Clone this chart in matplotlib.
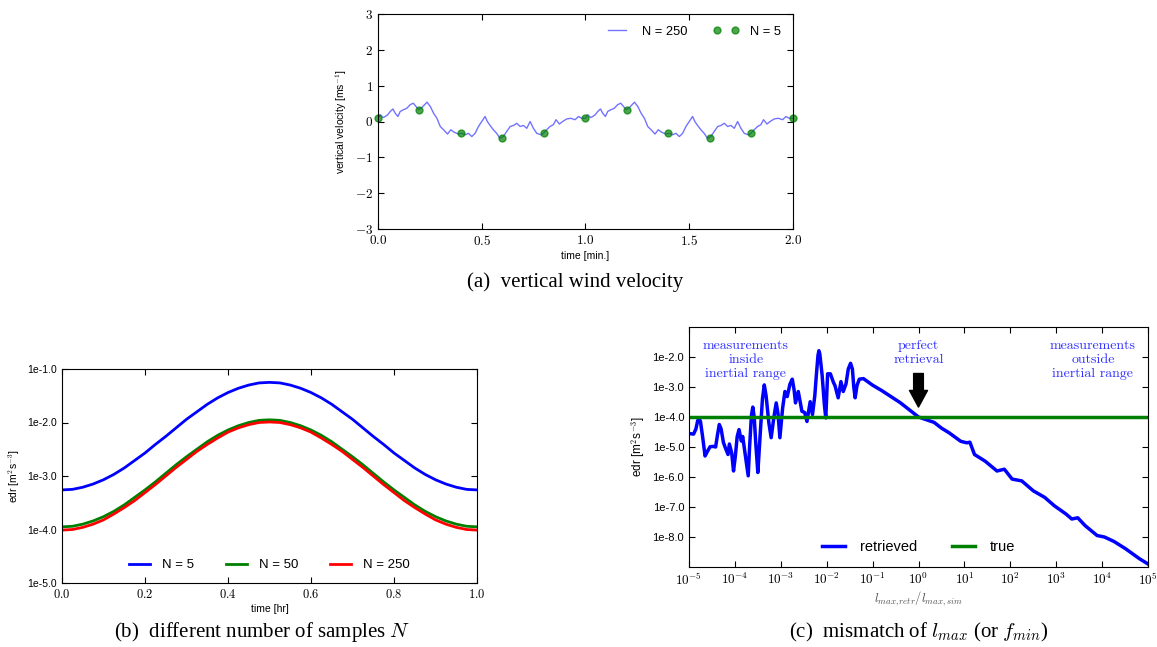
import matplotlib
matplotlib.use('Agg')
import matplotlib.pyplot as plt
import numpy as np

plt.rcParams['font.family'] = ['Liberation Sans', 'DejaVu Sans']
plt.rcParams['mathtext.fontset'] = 'cm'
plt.rcParams['xtick.direction'] = 'in'
plt.rcParams['ytick.direction'] = 'in'
plt.rcParams['xtick.top'] = True
plt.rcParams['ytick.right'] = True
plt.rcParams['xtick.major.size'] = 4
plt.rcParams['ytick.major.size'] = 4
plt.rcParams['xtick.minor.size'] = 2
plt.rcParams['ytick.minor.size'] = 2

# (a) vertical wind velocity, N = 250 line
t_line = [0.000, 0.011, 0.024, 0.035, 0.047, 0.059, 0.072, 0.083, 0.096, 0.107,
          0.123, 0.139, 0.155, 0.170, 0.183, 0.196, 0.212, 0.225, 0.236, 0.252,
          0.268, 0.284, 0.300, 0.316, 0.335, 0.351, 0.367, 0.388, 0.404, 0.420,
          0.436, 0.452, 0.468, 0.484, 0.500, 0.516, 0.527, 0.540, 0.556, 0.572,
          0.588, 0.604, 0.620, 0.637, 0.653, 0.669, 0.685, 0.701, 0.717, 0.733,
          0.749, 0.765, 0.785, 0.797, 0.813, 0.829, 0.845, 0.858, 0.874, 0.890,
          0.909, 0.929, 0.950, 0.966, 0.982, 1.000,
          1.011, 1.024, 1.035, 1.047, 1.059, 1.072, 1.083, 1.096, 1.107,
          1.123, 1.139, 1.155, 1.170, 1.183, 1.196, 1.212, 1.225, 1.236, 1.252,
          1.268, 1.284, 1.300, 1.316, 1.335, 1.351, 1.367, 1.388, 1.404, 1.420,
          1.436, 1.452, 1.468, 1.484, 1.500, 1.516, 1.527, 1.540, 1.556, 1.572,
          1.588, 1.604, 1.620, 1.637, 1.653, 1.669, 1.685, 1.701, 1.717, 1.733,
          1.749, 1.765, 1.785, 1.797, 1.813, 1.829, 1.845, 1.858, 1.874, 1.890,
          1.909, 1.929, 1.950, 1.966, 1.982, 2.000]
w_line = [0.09, 0.19, 0.11, 0.14, 0.19, 0.28, 0.35, 0.23, 0.14, 0.28,
          0.33, 0.37, 0.47, 0.51, 0.42, 0.33, 0.39, 0.47, 0.54, 0.42,
          0.23, 0.09, -0.14, -0.23, -0.35, -0.23, -0.30, -0.35, -0.33, -0.37,
          -0.33, -0.42, -0.33, -0.14, 0.00, 0.14, 0.00, -0.11, -0.23, -0.33,
          -0.47, -0.42, -0.28, -0.14, -0.11, -0.05, -0.14, -0.11, -0.19, 0.00,
          -0.19, -0.33, -0.37, -0.33, -0.23, -0.14, -0.09, 0.05, -0.07, 0.00,
          0.07, 0.09, 0.05, 0.14, 0.09, 0.09,
          0.19, 0.11, 0.14, 0.19, 0.28, 0.35, 0.23, 0.14, 0.28,
          0.33, 0.37, 0.47, 0.51, 0.42, 0.33, 0.39, 0.47, 0.54, 0.42,
          0.23, 0.09, -0.14, -0.23, -0.35, -0.23, -0.30, -0.35, -0.33, -0.37,
          -0.33, -0.42, -0.33, -0.14, 0.00, 0.14, 0.00, -0.11, -0.23, -0.33,
          -0.47, -0.42, -0.28, -0.14, -0.11, -0.05, -0.14, -0.11, -0.19, 0.00,
          -0.19, -0.33, -0.37, -0.33, -0.23, -0.14, -0.09, 0.05, -0.07, 0.00,
          0.07, 0.09, 0.05, 0.14, 0.09, 0.09]
# N = 5 samples
t_dots = [0.0, 0.2, 0.4, 0.6, 0.8, 1.0, 1.2, 1.4, 1.6, 1.8, 2.0]
w_dots = [0.11, 0.33, -0.33, -0.46, -0.33, 0.11, 0.33, -0.33, -0.46, -0.33, 0.11]

# (b) log10 edr over one hour for different N
t_hr = [0.000, 0.025, 0.050, 0.075, 0.100, 0.125, 0.150, 0.175, 0.200, 0.225,
        0.250, 0.275, 0.300, 0.325, 0.350, 0.375, 0.400, 0.425, 0.450, 0.475,
        0.500, 0.525, 0.550, 0.575, 0.600, 0.625, 0.650, 0.675, 0.700, 0.725,
        0.750, 0.775, 0.800, 0.825, 0.850, 0.875, 0.900, 0.925, 0.950, 0.975, 1.000]
edr_n5 = [-3.26, -3.25, -3.21, -3.15, -3.07, -2.97, -2.85, -2.71, -2.57, -2.41,
          -2.26, -2.10, -1.94, -1.80, -1.66, -1.54, -1.44, -1.36, -1.30, -1.26,
          -1.25, -1.26, -1.30, -1.36, -1.44, -1.54, -1.66, -1.80, -1.94, -2.10,
          -2.26, -2.41, -2.57, -2.71, -2.85, -2.97, -3.07, -3.15, -3.21, -3.25, -3.26]
edr_n50 = [-3.95, -3.94, -3.90, -3.84, -3.76, -3.66, -3.54, -3.40, -3.26, -3.11,
           -2.95, -2.79, -2.64, -2.50, -2.36, -2.24, -2.14, -2.06, -2.00, -1.96,
           -1.95, -1.96, -2.00, -2.06, -2.14, -2.24, -2.36, -2.50, -2.64, -2.79,
           -2.95, -3.11, -3.26, -3.40, -3.54, -3.66, -3.76, -3.84, -3.90, -3.94, -3.95]
edr_n250 = [-4.01, -4.00, -3.96, -3.90, -3.82, -3.71, -3.59, -3.46, -3.31, -3.16,
            -3.00, -2.84, -2.69, -2.54, -2.41, -2.29, -2.18, -2.10, -2.04, -2.00,
            -1.99, -2.00, -2.04, -2.10, -2.18, -2.29, -2.41, -2.54, -2.69, -2.84,
            -3.00, -3.16, -3.31, -3.46, -3.59, -3.71, -3.82, -3.90, -3.96, -4.00, -4.01]

# (c) retrieved log10 edr vs log10(l_max,retr / l_max,sim)
ratio_exp = [-5.00, -4.90, -4.85, -4.81, -4.78, -4.75, -4.70, -4.65, -4.60, -4.54,
             -4.47, -4.42, -4.38, -4.34, -4.30, -4.25, -4.21, -4.15, -4.12, -4.07,
             -4.03, -3.99, -3.95, -3.91, -3.86, -3.83, -3.78, -3.71, -3.68, -3.64,
             -3.61, -3.58, -3.54, -3.50, -3.45, -3.40, -3.36, -3.32, -3.26, -3.21,
             -3.15, -3.10, -3.06, -3.02, -2.96, -2.91, -2.86, -2.80, -2.75, -2.71,
             -2.68, -2.62, -2.54, -2.48, -2.43, -2.36, -2.31, -2.26, -2.22, -2.19,
             -2.17, -2.15, -2.10, -2.05, -2.02, -2.00, -1.98, -1.92, -1.85, -1.82,
             -1.75, -1.69, -1.64, -1.58, -1.53, -1.48, -1.44, -1.41, -1.38, -1.34,
             -1.29, -1.20, -1.00, -0.80, -0.60, -0.40, -0.20, 0.00, 0.34, 0.50,
             0.67, 0.92, 1.05, 1.12, 1.22, 1.45, 1.71, 1.87, 2.04, 2.25,
             2.50, 2.75, 2.96, 3.21, 3.34, 3.47, 3.63, 3.89, 4.05, 4.26,
             4.51, 4.81, 5.00]
edr_retr = [-4.55, -4.57, -4.40, -4.12, -4.05, -4.15, -4.70, -5.30, -5.15, -4.99,
            -4.98, -5.00, -4.60, -4.25, -4.40, -4.85, -5.02, -5.25, -4.90, -5.20,
            -5.80, -5.30, -4.65, -4.42, -4.80, -4.65, -5.20, -5.96, -5.00, -3.95,
            -3.67, -4.00, -5.00, -5.85, -4.60, -3.40, -2.93, -3.30, -4.20, -4.69,
            -4.00, -3.53, -3.90, -4.69, -3.70, -3.15, -3.32, -2.90, -2.74, -3.10,
            -3.53, -3.15, -3.81, -3.85, -4.15, -3.49, -3.92, -3.30, -2.50, -1.95,
            -1.79, -1.90, -2.60, -3.60, -4.03, -3.30, -2.56, -2.56, -2.86, -2.95,
            -3.36, -2.82, -3.15, -2.90, -2.40, -2.21, -2.40, -3.00, -3.36, -2.95,
            -2.74, -2.72, -2.94, -3.12, -3.32, -3.52, -3.76, -4.00, -4.18, -4.37,
            -4.53, -4.81, -4.86, -4.84, -5.25, -5.47, -5.80, -5.74, -6.07, -6.13,
            -6.46, -6.68, -6.96, -7.23, -7.40, -7.36, -7.62, -7.95, -8.00, -8.15,
            -8.39, -8.72, -8.90]
edr_true = -4.0

W, H = 1157, 647
fig = plt.figure(figsize=(W / 100, H / 100), dpi=100)

def px_axes(left, top, right, bottom):
    return fig.add_axes([left / W, 1 - bottom / H, (right - left) / W, (bottom - top) / H])

# ---- (a)
ax1 = px_axes(378, 14, 793, 229)
ax1.plot(t_line, w_line, color='b', alpha=0.55, lw=1, label='N = 250')
ax1.plot(t_dots, w_dots, 'o', color='g', alpha=0.7, ms=5, mec='g', label='N = 5', clip_on=False)
ax1.set_xlim(0, 2)
ax1.set_ylim(-3, 3)
ax1.set_xticks([0.0, 0.5, 1.0, 1.5, 2.0])
ax1.set_xticklabels(['$0.0$', '$0.5$', '$1.0$', '$1.5$', '$2.0$'], fontsize=9.5)
ax1.set_yticks([-3, -2, -1, 0, 1, 2, 3])
ax1.set_yticklabels(['$-3$', '$-2$', '$-1$', '$0$', '$1$', '$2$', '$3$'], fontsize=9.5)
ax1.set_xlabel('time [min.]', fontsize=7.5, labelpad=2)
ax1.set_ylabel('vertical velocity [ms$^{-1}$]', fontsize=7.5, labelpad=4)
ax1.legend(loc='upper right', ncol=2, frameon=False, fontsize=9.3, numpoints=2,
           handlelength=2.0, handletextpad=0.9, columnspacing=2.0)

# ---- (b)
ax2 = px_axes(62, 369, 477, 583)
ax2.plot(t_hr, edr_n5, color='b', lw=2, label='N = 5')
ax2.plot(t_hr, edr_n50, color='g', lw=2, label='N = 50')
ax2.plot(t_hr, edr_n250, color='r', lw=2, label='N = 250')
ax2.set_xlim(0, 1)
ax2.set_ylim(-5, -1)
ax2.set_xticks([0.0, 0.2, 0.4, 0.6, 0.8, 1.0])
ax2.set_xticklabels(['$0.0$', '$0.2$', '$0.4$', '$0.6$', '$0.8$', '$1.0$'], fontsize=9)
ax2.set_yticks([-5, -4, -3, -2, -1])
ax2.set_yticklabels(['1e-5.0', '1e-4.0', '1e-3.0', '1e-2.0', '1e-1.0'], fontsize=7.5)
ax2.set_xlabel('time [hr]', fontsize=7.5, labelpad=2)
ax2.set_ylabel('edr [m$^2$s$^{-3}$]', fontsize=7.5, labelpad=4)
ax2.legend(loc='lower center', ncol=3, frameon=False, fontsize=9.5,
           handlelength=1.6, handletextpad=0.9, columnspacing=2.4)

# ---- (c)
ax3 = px_axes(689, 327, 1148, 567)
ax3.plot(10.0 ** np.array(ratio_exp), edr_retr, color='b', lw=2.5, label='retrieved')
ax3.axhline(edr_true, color='g', lw=2.5, label='true')
ax3.set_xscale('log')
ax3.set_xlim(1e-5, 1e5)
ax3.set_ylim(-9, -1)
dec = list(range(-5, 6))
ax3.set_xticks([10.0 ** d for d in dec])
ax3.set_xticklabels(['$10^{%d}$' % d for d in dec], fontsize=9.5)
ax3.set_yticks([-8, -7, -6, -5, -4, -3, -2])
ax3.set_yticklabels(['1e-8.0', '1e-7.0', '1e-6.0', '1e-5.0', '1e-4.0', '1e-3.0', '1e-2.0'],
                    fontsize=8)
ax3.set_xlabel('$l_{max,retr}/l_{max,sim}$', fontsize=9, color='0.3', labelpad=1)
ax3.set_ylabel('edr [m$^2$s$^{-3}$]', fontsize=8.5, labelpad=4)
ax3.legend(loc='lower center', ncol=2, frameon=False, fontsize=10.5,
           handlelength=1.6, handletextpad=1.0, columnspacing=2.4)

note = dict(ha='center', va='center', color='#3030ff', fontsize=10,
            family='cmr10', linespacing=1.2)
ax3.text(10 ** -3.76, -2.1, 'measurements\ninside\ninertial range', **note)
ax3.text(10 ** 0.0, -1.87, 'perfect\nretrieval', **note)
ax3.text(10 ** 3.8, -2.1, 'measurements\noutside\ninertial range', **note)
ax3.annotate('', xy=(1.0, -3.67), xytext=(1.0, -2.55),
             arrowprops=dict(facecolor='black', edgecolor='black', width=7,
                             headwidth=13, headlength=12, shrink=0))

# captions
cap = dict(ha='center', va='center', fontsize=15, family='Liberation Serif')
fig.text(575 / W, 1 - 282 / H, '(a)  vertical wind velocity', **cap)
fig.text(262 / W, 1 - 632 / H, '(b)  different number of samples $N$', **cap)
fig.text(919 / W, 1 - 632 / H, '(c)  mismatch of $l_{max}$ (or $f_{min}$)', **cap)

fig.savefig('out.png', dpi=100, facecolor='white')
